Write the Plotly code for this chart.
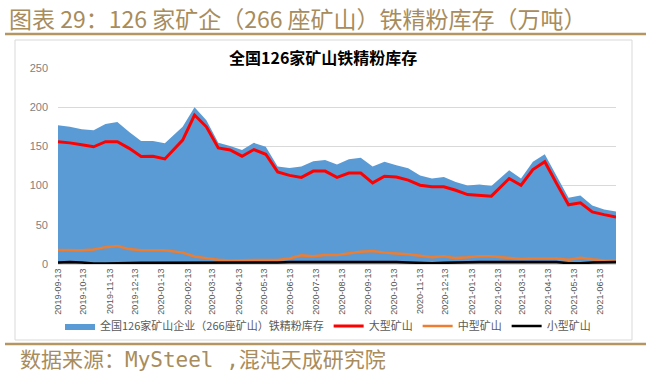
import plotly.graph_objects as go

dates = ["2019-09-13","2019-09-27","2019-10-11","2019-10-25","2019-11-08","2019-11-22","2019-12-06","2019-12-20",
         "2020-01-03","2020-01-17","2020-02-07","2020-02-21","2020-03-06","2020-03-20","2020-04-03","2020-04-17",
         "2020-05-01","2020-05-15","2020-05-29","2020-06-12","2020-06-26","2020-07-10","2020-07-24","2020-08-07",
         "2020-08-21","2020-09-04","2020-09-18","2020-10-02","2020-10-16","2020-10-30","2020-11-13","2020-11-27",
         "2020-12-11","2020-12-25","2021-01-08","2021-01-22","2021-02-05","2021-02-26","2021-03-12","2021-03-26",
         "2021-04-09","2021-04-23","2021-05-07","2021-05-21","2021-06-04","2021-06-18","2021-07-02"]

total = [177,175,172,170.5,178.5,181,168.5,157,157,154,175,200,183.5,154.5,150.5,145.5,154.5,149.5,124.5,122.5,
         124.5,131,132.5,127,133.5,135.5,124.5,130.5,126,122,113,109,111,104.5,100,101.5,99.5,119.5,109,130.5,
         140,113,84.5,87.5,74.5,69.5,67]
large = [156,154.5,152,149.5,156,156,147.5,137,137.5,134,158,190,175,148,145.5,137.5,146,140,117.5,113,
         110.5,118.5,118.5,110.5,116,116,103.5,112,111,107,100.5,98.5,98.5,94,88.5,87.5,86.5,109,100.5,120.5,
         130.5,102.5,75.5,78,66.5,63,60]
medium = [18,18,17.5,18.5,21.5,23,19,17.5,17.5,17.5,14.5,9.5,7.5,5.5,4.5,5,5,5,5,7,
          11,10,11.5,11.5,13.5,15.5,16.5,14.5,13.5,12.5,10.5,8.5,10,7.5,8.5,10,10,8,6.5,7,
          7,7,5.5,8,6,4.5,4.5]
small = [2,2.5,2,0.5,0.5,1,1.5,1.5,1.5,1.5,1.5,1.5,2,2,2,2,2,2,2,2.5,
         2.5,3,3,3.3,3.3,3.3,3.3,2.5,2.5,2,1,0.8,1.5,2,2,2.5,2.5,2.5,2.5,2.5,
         2.5,2.5,1,0.8,2,2.5,2.5]

tick_labels = ["2019-09-13","2019-10-13","2019-11-13","2019-12-13","2020-01-13","2020-02-13","2020-03-13",
               "2020-04-13","2020-05-13","2020-06-13","2020-07-13","2020-08-13","2020-09-13","2020-10-13",
               "2020-11-13","2020-12-13","2021-01-13","2021-02-13","2021-03-13","2021-04-13","2021-05-13",
               "2021-06-13"]

names = ["全国126家矿山企业（266座矿山）铁精粉库存", "大型矿山", "中型矿山", "小型矿山"]
fig_title = "图表 29：126 家矿企（266 座矿山）铁精粉库存（万吨）"
inner_title = "全国126家矿山铁精粉库存"
source = "数据来源：MySteel ,混沌天成研究院"

FONT = "Noto Sans CJK SC"
BROWN = "#a88c5c"

fig = go.Figure()
fig.add_trace(go.Scatter(x=dates, y=total, name=names[0], mode="lines", fill="tozeroy",
                         line=dict(width=0, color="#5b9bd5"), fillcolor="#5b9bd5"))
fig.add_trace(go.Scatter(x=dates, y=large, name=names[1], mode="lines",
                         line=dict(width=3, color="#ff0000")))
fig.add_trace(go.Scatter(x=dates, y=medium, name=names[2], mode="lines",
                         line=dict(width=2.5, color="#ed7d31")))
fig.add_trace(go.Scatter(x=dates, y=small, name=names[3], mode="lines",
                         line=dict(width=2.5, color="#000000")))

L, R, T, B = 58, 32, 68, 112
W, H = 648, 376
pw, ph = W - L - R, H - T - B
def px(x): return (x - L) / pw
def py(y): return (H - B - y) / ph

fig.update_layout(
    width=W, height=H,
    margin=dict(l=L, r=R, t=T, b=B, autoexpand=False),
    paper_bgcolor="white", plot_bgcolor="white",
    font=dict(family=FONT, color="#595959", size=11),
    showlegend=True,
    legend=dict(orientation="h", x=px(328), xanchor="center", y=py(326), yanchor="middle",
                bgcolor="rgba(0,0,0,0)",
                font=dict(size=11, color="#595959"), itemwidth=30, tracegroupgap=0),
    xaxis=dict(type="date", range=[dates[0], dates[-1]], tickvals=tick_labels, ticktext=tick_labels,
               tickangle=-90, tickfont=dict(size=9, color="#595959", family="Liberation Sans"),
               showgrid=False, showline=True, linecolor="#d9d9d9", ticks="", zeroline=False,
               automargin=False),
    yaxis=dict(range=[0, 250], dtick=50, showgrid=True, gridcolor="#d9d9d9", gridwidth=1,
               zeroline=False, showline=False, ticks="", ticklabelstandoff=9, automargin=False,
               tickfont=dict(size=11, color="#7f7f7f", family="Liberation Sans")),
    shapes=[
        dict(type="rect", xref="paper", yref="paper", x0=px(15), x1=px(632), y0=py(340), y1=py(40),
             line=dict(color="#d9d9d9", width=1), layer="below"),
        dict(type="line", xref="paper", yref="paper", x0=px(5), x1=px(646), y0=py(34), y1=py(34),
             line=dict(color="#b39662", width=2.5)),
        dict(type="line", xref="paper", yref="paper", x0=px(5), x1=px(646), y0=py(344), y1=py(344),
             line=dict(color="#b39662", width=2.5)),
    ],
    annotations=[
        dict(text=fig_title, xref="paper", yref="paper", x=px(7), y=py(18), xanchor="left", yanchor="middle",
             showarrow=False, font=dict(size=23, color=BROWN, family=FONT)),
        dict(text="<b>" + inner_title + "</b>", xref="paper", yref="paper", x=px(323), y=py(57),
             xanchor="center", yanchor="middle", showarrow=False,
             font=dict(size=16, color="#000000", family=FONT)),
        dict(text=source, xref="paper", yref="paper", x=px(18), y=py(360), xanchor="left", yanchor="middle",
             showarrow=False, font=dict(size=21, color=BROWN, family="DejaVu Sans Mono, " + FONT)),
    ],
)

fig.write_html("out.html", config={"displayModeBar": False},
               post_script="document.body.style.margin='0';document.body.style.padding='0';"
                           "document.documentElement.style.overflow='hidden';")
